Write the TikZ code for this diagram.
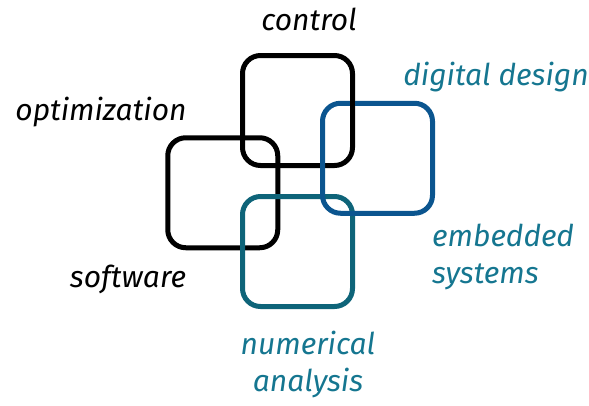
\documentclass[tikz,border=0pt]{standalone}
\usepackage{fontspec}
\setmainfont{Fira Sans}
\usepackage{tikz}
\usetikzlibrary{positioning,calc}
\definecolor{fieldblue}{RGB}{11, 85, 143}
\definecolor{fieldteal}{RGB}{14, 100, 121}
\definecolor{labelteal}{RGB}{21, 118, 144}

\begin{document}
\begin{tikzpicture}[
        x=1pt, y=-1pt,
        field/.style={draw, line width=5pt, rounded corners=18pt, minimum width=110pt, minimum height=110pt, inner sep=0pt, outer sep=0pt},
        tag/.style={font=\fontsize{30}{37}\selectfont\itshape, inner sep=0pt, align=center, anchor=base}
    ]
        \useasboundingbox (0,0) rectangle (589,405);

        % Squares
        \node[field, draw=black] (control) at (297.5, 110.5) {};
        \node[field, draw=black] (software) at (222.75, 192.75) {};
        \node[field, draw=fieldteal] (numerical) at (297.5, 251.5) {};
        \node[field, draw=fieldblue] (digital) at (377.5, 158.25) {};

        % Black edge passes over the blue one here
        \draw[line width=5pt] (control.east) -- ($(control.east)+(0,-16)$);

        % Labels
        \node[tag] (controltag) at (309, 30) {control};
        \node[tag] (optimtag) at (101, 120) {optimization};
        \node[tag] (softtag) at (128, 287) {software};
        \node[tag, text=labelteal] (digitaltag) at (496, 85) {digital design};
        \node[tag, text=labelteal, align=left, anchor=base west] (embeddedtag) at (432, 283) {embedded\\systems};
        \node[tag, text=labelteal] (numtag) at (308, 391) {numerical\\analysis};
    \end{tikzpicture}
\end{document}
